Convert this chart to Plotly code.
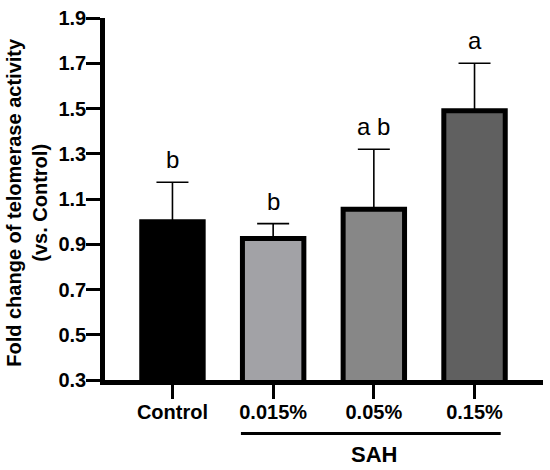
import plotly.graph_objects as go

# telomerase activity, fold change vs control
groups = ["Control", "0.015%", "0.05%", "0.15%"]
means = [1.00, 0.925, 1.055, 1.49]
sds = [0.174, 0.066, 0.265, 0.21]
letters = ["b", "b", "a b", "a"]
fills = ["#000000", "#a2a2a6", "#878787", "#606060"]
yticks = [0.3, 0.5, 0.7, 0.9, 1.1, 1.3, 1.5, 1.7, 1.9]

FONT = "Liberation Sans, Arial, Helvetica, sans-serif"

fig = go.Figure()
fig.add_trace(go.Bar(
    x=groups, y=means,
    width=0.61,
    marker=dict(color=fills, line=dict(color="black", width=5)),
    error_y=dict(type="data", array=sds, arrayminus=[0] * len(sds),
                 symmetric=False, color="black", thickness=1.6, width=16),
    showlegend=False,
))

# significance letters above the error bars
for g, m, s, t in zip(groups, means, sds, letters):
    fig.add_annotation(x=g, y=m + s, text=t, showarrow=False,
                       yanchor="bottom", yshift=7,
                       font=dict(family=FONT, size=24, color="black"))

# SAH bracket under the treated groups
fig.add_shape(type="line", xref="x", yref="paper",
              x0=1 - 0.32, x1=3 + 0.26, y0=-0.148, y1=-0.148,
              line=dict(color="black", width=3))
fig.add_annotation(x=2, xref="x", y=-0.205, yref="paper", text="SAH",
                   showarrow=False, yanchor="middle",
                   font=dict(family=FONT, size=22, color="black", weight="bold"))

# y axis title
fig.add_annotation(xref="paper", yref="paper", x=-0.18, y=0.49,
                   text="Fold change of telomerase activity<br>(vs. Control)",
                   textangle=-90, showarrow=False,
                   xanchor="center", yanchor="middle",
                   font=dict(family=FONT, size=20, color="black", weight="bold"))

fig.update_layout(
    width=550, height=470,
    margin=dict(l=105, r=7, t=15, b=90),
    plot_bgcolor="white", paper_bgcolor="white",
)
fig.update_xaxes(
    range=[-0.67, 3.68],
    showline=True, linecolor="black", linewidth=4.5,
    ticks="outside", ticklen=14, tickwidth=3, tickcolor="black",
    ticklabelstandoff=-4,
    showgrid=False, zeroline=False,
    tickfont=dict(family=FONT, size=20, color="black", weight="bold"),
)
fig.update_yaxes(
    range=[0.3, 1.9], tickvals=yticks, ticktext=[f"{v:.1f}" for v in yticks],
    showline=True, linecolor="black", linewidth=4.5,
    ticks="outside", ticklen=14, tickwidth=3, tickcolor="black",
    ticklabelstandoff=-4, ticklabeloverflow="allow",
    showgrid=False, zeroline=False,
    tickfont=dict(family=FONT, size=20, color="black", weight="bold"),
)

# drop the default body margin so the figure fills the window
fig.write_html("out.html", config={"displayModeBar": False},
               post_script="document.body.style.margin='0';")
